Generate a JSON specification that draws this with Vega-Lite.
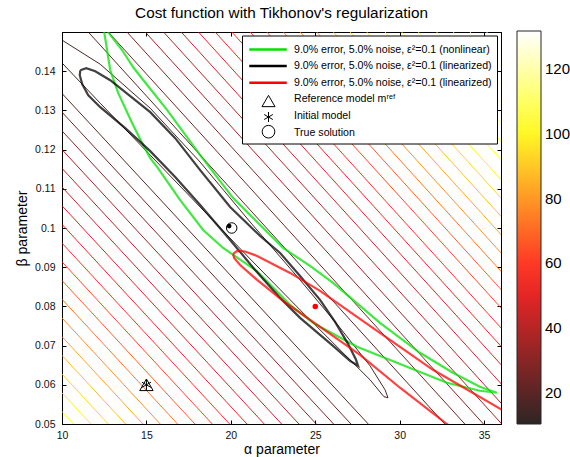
{
  "$schema": "https://vega.github.io/schema/vega-lite/v6.json",
  "width": 439,
  "height": 392,
  "autosize": {"type": "none"},
  "padding": {"left": 62, "top": 32, "right": 69, "bottom": 33},
  "background": "white",
  "title": {"text": "Cost function with Tikhonov's regularization", "fontSize": 15.3, "fontWeight": "normal", "font": "Liberation Sans", "color": "black", "offset": 10, "anchor": "middle"},
  "config": {
    "view": {"stroke": "black", "strokeWidth": 1},
    "axis": {"labelFont": "Liberation Sans", "titleFont": "Liberation Sans", "labelFontSize": 10.5, "titleFontSize": 14, "titleFontWeight": "normal", "labelColor": "#111", "titleColor": "black", "domainColor": "black", "tickColor": "black", "grid": false, "tickSize": -4, "labelPadding": 10, "labelFlush": false},
    "legend": {"labelFont": "Liberation Sans"}
  },
  "datasets": {
    "contours": [
      {"id": "L0", "lev": 102.0, "o": 0, "a": 10, "b": 0.05319}, {"id": "L0", "lev": 102.0, "o": 1, "a": 10.686, "b": 0.05},
      {"id": "L1", "lev": 97.2, "o": 0, "a": 10, "b": 0.05796}, {"id": "L1", "lev": 97.2, "o": 1, "a": 11.713, "b": 0.05},
      {"id": "L2", "lev": 92.3, "o": 0, "a": 10, "b": 0.06273}, {"id": "L2", "lev": 92.3, "o": 1, "a": 12.739, "b": 0.05},
      {"id": "L3", "lev": 87.5, "o": 0, "a": 10, "b": 0.06751}, {"id": "L3", "lev": 87.5, "o": 1, "a": 13.766, "b": 0.05},
      {"id": "L4", "lev": 82.7, "o": 0, "a": 10, "b": 0.07228}, {"id": "L4", "lev": 82.7, "o": 1, "a": 14.792, "b": 0.05},
      {"id": "L5", "lev": 77.9, "o": 0, "a": 10, "b": 0.07705}, {"id": "L5", "lev": 77.9, "o": 1, "a": 15.819, "b": 0.05},
      {"id": "L6", "lev": 73.0, "o": 0, "a": 10, "b": 0.08183}, {"id": "L6", "lev": 73.0, "o": 1, "a": 16.846, "b": 0.05},
      {"id": "L7", "lev": 68.2, "o": 0, "a": 10, "b": 0.08660}, {"id": "L7", "lev": 68.2, "o": 1, "a": 17.872, "b": 0.05},
      {"id": "L8", "lev": 63.4, "o": 0, "a": 10, "b": 0.09137}, {"id": "L8", "lev": 63.4, "o": 1, "a": 18.899, "b": 0.05},
      {"id": "L9", "lev": 58.6, "o": 0, "a": 10, "b": 0.09614}, {"id": "L9", "lev": 58.6, "o": 1, "a": 19.925, "b": 0.05},
      {"id": "L10", "lev": 53.8, "o": 0, "a": 10, "b": 0.10092}, {"id": "L10", "lev": 53.8, "o": 1, "a": 20.952, "b": 0.05},
      {"id": "L11", "lev": 48.9, "o": 0, "a": 10, "b": 0.10569}, {"id": "L11", "lev": 48.9, "o": 1, "a": 21.979, "b": 0.05},
      {"id": "L12", "lev": 44.1, "o": 0, "a": 10, "b": 0.11046}, {"id": "L12", "lev": 44.1, "o": 1, "a": 23.005, "b": 0.05},
      {"id": "L13", "lev": 39.3, "o": 0, "a": 10, "b": 0.11523}, {"id": "L13", "lev": 39.3, "o": 1, "a": 24.032, "b": 0.05},
      {"id": "L14", "lev": 34.5, "o": 0, "a": 10, "b": 0.12000}, {"id": "L14", "lev": 34.5, "o": 1, "a": 25.058, "b": 0.05},
      {"id": "L15", "lev": 29.7, "o": 0, "a": 10, "b": 0.12478}, {"id": "L15", "lev": 29.7, "o": 1, "a": 26.085, "b": 0.05},
      {"id": "L16", "lev": 24.9, "o": 0, "a": 10, "b": 0.12955}, {"id": "L16", "lev": 24.9, "o": 1, "a": 27.112, "b": 0.05},
      {"id": "L17", "lev": 20.0, "o": 0, "a": 10, "b": 0.13432}, {"id": "L17", "lev": 20.0, "o": 1, "a": 28.138, "b": 0.05},
      {"id": "U0", "lev": 20.0, "o": 0, "a": 11.556, "b": 0.15}, {"id": "U0", "lev": 20.0, "o": 1, "a": 36.556, "b": 0.03161},
      {"id": "U1", "lev": 24.9, "o": 0, "a": 12.740, "b": 0.15}, {"id": "U1", "lev": 24.9, "o": 1, "a": 37.740, "b": 0.03161},
      {"id": "U2", "lev": 29.7, "o": 0, "a": 13.846, "b": 0.15}, {"id": "U2", "lev": 29.7, "o": 1, "a": 38.846, "b": 0.03161},
      {"id": "U3", "lev": 34.5, "o": 0, "a": 14.929, "b": 0.15}, {"id": "U3", "lev": 34.5, "o": 1, "a": 39.929, "b": 0.03161},
      {"id": "U4", "lev": 39.3, "o": 0, "a": 16.012, "b": 0.15}, {"id": "U4", "lev": 39.3, "o": 1, "a": 41.012, "b": 0.03161},
      {"id": "U5", "lev": 44.1, "o": 0, "a": 17.059, "b": 0.15}, {"id": "U5", "lev": 44.1, "o": 1, "a": 42.059, "b": 0.03161},
      {"id": "U6", "lev": 48.9, "o": 0, "a": 18.083, "b": 0.15}, {"id": "U6", "lev": 48.9, "o": 1, "a": 43.083, "b": 0.03161},
      {"id": "U7", "lev": 53.8, "o": 0, "a": 19.071, "b": 0.15}, {"id": "U7", "lev": 53.8, "o": 1, "a": 44.071, "b": 0.03161},
      {"id": "U8", "lev": 58.6, "o": 0, "a": 20.059, "b": 0.15}, {"id": "U8", "lev": 58.6, "o": 1, "a": 45.059, "b": 0.03161},
      {"id": "U9", "lev": 63.4, "o": 0, "a": 21.142, "b": 0.15}, {"id": "U9", "lev": 63.4, "o": 1, "a": 46.142, "b": 0.03161},
      {"id": "U10", "lev": 68.2, "o": 0, "a": 22.130, "b": 0.15}, {"id": "U10", "lev": 68.2, "o": 1, "a": 47.130, "b": 0.03161},
      {"id": "U11", "lev": 73.0, "o": 0, "a": 23.112, "b": 0.15}, {"id": "U11", "lev": 73.0, "o": 1, "a": 48.112, "b": 0.03161},
      {"id": "U12", "lev": 77.9, "o": 0, "a": 24.101, "b": 0.15}, {"id": "U12", "lev": 77.9, "o": 1, "a": 49.101, "b": 0.03161},
      {"id": "U13", "lev": 82.7, "o": 0, "a": 25.089, "b": 0.15}, {"id": "U13", "lev": 82.7, "o": 1, "a": 50.089, "b": 0.03161},
      {"id": "U14", "lev": 87.5, "o": 0, "a": 26.071, "b": 0.15}, {"id": "U14", "lev": 87.5, "o": 1, "a": 51.071, "b": 0.03161},
      {"id": "U15", "lev": 92.3, "o": 0, "a": 27.059, "b": 0.15}, {"id": "U15", "lev": 92.3, "o": 1, "a": 52.059, "b": 0.03161},
      {"id": "U16", "lev": 97.2, "o": 0, "a": 28.047, "b": 0.15}, {"id": "U16", "lev": 97.2, "o": 1, "a": 53.047, "b": 0.03161},
      {"id": "U17", "lev": 102.0, "o": 0, "a": 29.130, "b": 0.15}, {"id": "U17", "lev": 102.0, "o": 1, "a": 54.130, "b": 0.03161},
      {"id": "U18", "lev": 106.8, "o": 0, "a": 30.118, "b": 0.15}, {"id": "U18", "lev": 106.8, "o": 1, "a": 55.118, "b": 0.03161},
      {"id": "U19", "lev": 111.6, "o": 0, "a": 31.101, "b": 0.15}, {"id": "U19", "lev": 111.6, "o": 1, "a": 56.101, "b": 0.03161},
      {"id": "U20", "lev": 116.4, "o": 0, "a": 32.189, "b": 0.15}, {"id": "U20", "lev": 116.4, "o": 1, "a": 57.189, "b": 0.03161},
      {"id": "U21", "lev": 121.2, "o": 0, "a": 33.172, "b": 0.15}, {"id": "U21", "lev": 121.2, "o": 1, "a": 58.172, "b": 0.03161},
      {"id": "U22", "lev": 126.1, "o": 0, "a": 34.160, "b": 0.15}, {"id": "U22", "lev": 126.1, "o": 1, "a": 59.160, "b": 0.03161},
      {"id": "U23", "lev": 130.9, "o": 0, "a": 35.148, "b": 0.15}, {"id": "U23", "lev": 130.9, "o": 1, "a": 60.148, "b": 0.03161},
      {"id": "E", "lev": 15.2, "o": 0, "a": 7.533, "b": 0.15171},
      {"id": "E", "lev": 15.2, "o": 1, "a": 8.716, "b": 0.15043},
      {"id": "E", "lev": 15.2, "o": 2, "a": 10.018, "b": 0.14789},
      {"id": "E", "lev": 15.2, "o": 3, "a": 12.266, "b": 0.14177},
      {"id": "E", "lev": 15.2, "o": 4, "a": 15.225, "b": 0.13056},
      {"id": "E", "lev": 15.2, "o": 5, "a": 18.183, "b": 0.11681},
      {"id": "E", "lev": 15.2, "o": 6, "a": 21.142, "b": 0.10153},
      {"id": "E", "lev": 15.2, "o": 7, "a": 24.100, "b": 0.08675},
      {"id": "E", "lev": 15.2, "o": 8, "a": 26.467, "b": 0.07453},
      {"id": "E", "lev": 15.2, "o": 9, "a": 28.243, "b": 0.06485},
      {"id": "E", "lev": 15.2, "o": 10, "a": 29.130, "b": 0.05874},
      {"id": "E", "lev": 15.2, "o": 11, "a": 29.308, "b": 0.05670},
      {"id": "E", "lev": 15.2, "o": 12, "a": 29.071, "b": 0.05695},
      {"id": "E", "lev": 15.2, "o": 13, "a": 28.243, "b": 0.06128},
      {"id": "E", "lev": 15.2, "o": 14, "a": 26.467, "b": 0.06892},
      {"id": "E", "lev": 15.2, "o": 15, "a": 24.100, "b": 0.07911},
      {"id": "E", "lev": 15.2, "o": 16, "a": 21.142, "b": 0.09210},
      {"id": "E", "lev": 15.2, "o": 17, "a": 18.183, "b": 0.10535},
      {"id": "E", "lev": 15.2, "o": 18, "a": 15.225, "b": 0.11859},
      {"id": "E", "lev": 15.2, "o": 19, "a": 12.266, "b": 0.13183},
      {"id": "E", "lev": 15.2, "o": 20, "a": 10.018, "b": 0.14203},
      {"id": "E", "lev": 15.2, "o": 21, "a": 8.716, "b": 0.14738},
      {"id": "E", "lev": 15.2, "o": 22, "a": 7.533, "b": 0.15171}
    ],
    "overlays": [
      {"s": "g", "o": 0, "a": 12.521, "b": 0.15298}, {"s": "g", "o": 1, "a": 12.740, "b": 0.14992},
      {"s": "g", "o": 2, "a": 13.568, "b": 0.14534}, {"s": "g", "o": 3, "a": 14.219, "b": 0.14101},
      {"s": "g", "o": 4, "a": 14.633, "b": 0.13871}, {"s": "g", "o": 5, "a": 16.231, "b": 0.13006},
      {"s": "g", "o": 6, "a": 18.183, "b": 0.11859}, {"s": "g", "o": 7, "a": 20.136, "b": 0.10764},
      {"s": "g", "o": 8, "a": 21.438, "b": 0.10204}, {"s": "g", "o": 9, "a": 23.095, "b": 0.09490},
      {"s": "g", "o": 10, "a": 24.692, "b": 0.09032}, {"s": "g", "o": 11, "a": 26.053, "b": 0.08599},
      {"s": "g", "o": 12, "a": 28.834, "b": 0.07580}, {"s": "g", "o": 13, "a": 31.201, "b": 0.06816},
      {"s": "g", "o": 14, "a": 33.153, "b": 0.06307}, {"s": "g", "o": 15, "a": 34.751, "b": 0.05950},
      {"s": "g", "o": 16, "a": 35.757, "b": 0.05797}, {"s": "g", "o": 17, "a": 34.751, "b": 0.05848},
      {"s": "g", "o": 18, "a": 32.798, "b": 0.06052}, {"s": "g", "o": 19, "a": 29.840, "b": 0.06561},
      {"s": "g", "o": 20, "a": 27.473, "b": 0.06969}, {"s": "g", "o": 21, "a": 24.870, "b": 0.07580},
      {"s": "g", "o": 22, "a": 23.509, "b": 0.08039}, {"s": "g", "o": 23, "a": 21.556, "b": 0.08897},
      {"s": "g", "o": 24, "a": 19.544, "b": 0.09490}, {"s": "g", "o": 25, "a": 18.361, "b": 0.09949},
      {"s": "g", "o": 26, "a": 17.000, "b": 0.10713}, {"s": "g", "o": 27, "a": 15.639, "b": 0.11554},
      {"s": "g", "o": 28, "a": 15.225, "b": 0.11783}, {"s": "g", "o": 29, "a": 14.751, "b": 0.12165},
      {"s": "g", "o": 30, "a": 14.160, "b": 0.12674}, {"s": "g", "o": 31, "a": 13.331, "b": 0.13439},
      {"s": "g", "o": 32, "a": 12.858, "b": 0.14024}, {"s": "g", "o": 33, "a": 12.503, "b": 0.14992},
      {"s": "g", "o": 34, "a": 12.444, "b": 0.15171}, {"s": "g", "o": 35, "a": 12.521, "b": 0.15298},
      {"s": "k", "o": 0, "a": 11.083, "b": 0.14024}, {"s": "k", "o": 1, "a": 11.438, "b": 0.14075},
      {"s": "k", "o": 2, "a": 11.970, "b": 0.13999}, {"s": "k", "o": 3, "a": 12.858, "b": 0.13770},
      {"s": "k", "o": 4, "a": 14.041, "b": 0.13362}, {"s": "k", "o": 5, "a": 15.225, "b": 0.12955},
      {"s": "k", "o": 6, "a": 16.704, "b": 0.12292}, {"s": "k", "o": 7, "a": 18.183, "b": 0.11477},
      {"s": "k", "o": 8, "a": 19.958, "b": 0.10535}, {"s": "k", "o": 9, "a": 21.734, "b": 0.09796},
      {"s": "k", "o": 10, "a": 22.917, "b": 0.09363}, {"s": "k", "o": 11, "a": 24.100, "b": 0.08777},
      {"s": "k", "o": 12, "a": 25.284, "b": 0.08166}, {"s": "k", "o": 13, "a": 26.172, "b": 0.07606},
      {"s": "k", "o": 14, "a": 26.941, "b": 0.07045}, {"s": "k", "o": 15, "a": 27.414, "b": 0.06638},
      {"s": "k", "o": 16, "a": 27.532, "b": 0.06485}, {"s": "k", "o": 17, "a": 27.059, "b": 0.06612},
      {"s": "k", "o": 18, "a": 26.053, "b": 0.06994}, {"s": "k", "o": 19, "a": 25.284, "b": 0.07274},
      {"s": "k", "o": 20, "a": 24.100, "b": 0.07707}, {"s": "k", "o": 21, "a": 22.917, "b": 0.08217},
      {"s": "k", "o": 22, "a": 21.438, "b": 0.08930}, {"s": "k", "o": 23, "a": 19.958, "b": 0.09694},
      {"s": "k", "o": 24, "a": 18.183, "b": 0.10586}, {"s": "k", "o": 25, "a": 16.704, "b": 0.11299},
      {"s": "k", "o": 26, "a": 15.225, "b": 0.11961}, {"s": "k", "o": 27, "a": 13.746, "b": 0.12547},
      {"s": "k", "o": 28, "a": 12.266, "b": 0.13082}, {"s": "k", "o": 29, "a": 11.556, "b": 0.13387},
      {"s": "k", "o": 30, "a": 11.201, "b": 0.13668}, {"s": "k", "o": 31, "a": 11.053, "b": 0.13898},
      {"s": "k", "o": 32, "a": 11.083, "b": 0.14024},
      {"s": "r", "o": 0, "a": 20.136, "b": 0.09338}, {"s": "r", "o": 1, "a": 20.373, "b": 0.09414},
      {"s": "r", "o": 2, "a": 20.846, "b": 0.09401}, {"s": "r", "o": 3, "a": 21.556, "b": 0.09287},
      {"s": "r", "o": 4, "a": 23.509, "b": 0.08854}, {"s": "r", "o": 5, "a": 25.284, "b": 0.08395},
      {"s": "r", "o": 6, "a": 28.065, "b": 0.07555}, {"s": "r", "o": 7, "a": 31.970, "b": 0.06383},
      {"s": "r", "o": 8, "a": 36.053, "b": 0.05364}, {"s": "r", "o": 9, "a": 38.302, "b": 0.04804},
      {"s": "r", "o": 10, "a": 37.118, "b": 0.04345}, {"s": "r", "o": 11, "a": 34.160, "b": 0.04575},
      {"s": "r", "o": 12, "a": 32.798, "b": 0.05}, {"s": "r", "o": 13, "a": 30.018, "b": 0.05925},
      {"s": "r", "o": 14, "a": 27.651, "b": 0.06765}, {"s": "r", "o": 15, "a": 25.284, "b": 0.07478},
      {"s": "r", "o": 16, "a": 23.095, "b": 0.08140}, {"s": "r", "o": 17, "a": 21.556, "b": 0.08675},
      {"s": "r", "o": 18, "a": 20.550, "b": 0.09057}, {"s": "r", "o": 19, "a": 20.195, "b": 0.09236},
      {"s": "r", "o": 20, "a": 20.136, "b": 0.09338}
    ]
  },
  "layer": [
    {
      "data": {"name": "contours"},
      "mark": {"type": "line", "clip": true, "strokeWidth": 1, "opacity": 0.85},
      "encoding": {
        "x": {"field": "a", "type": "quantitative", "scale": {"domain": [10, 36], "nice": false, "zero": false},
              "axis": {"orient": "bottom", "values": [10, 15, 20, 25, 30, 35], "title": "α parameter", "titlePadding": 2}},
        "y": {"field": "b", "type": "quantitative", "scale": {"domain": [0.05, 0.15], "nice": false, "zero": false},
              "axis": {"orient": "left", "values": [0.05, 0.06, 0.07, 0.08, 0.09, 0.1, 0.11, 0.12, 0.13, 0.14], "format": "~g", "title": "β parameter", "titlePadding": 5, "labelPadding": 11}},
        "color": {"field": "lev", "type": "quantitative",
                  "scale": {"type": "linear", "domain": [10.4, 55.9, 101.4, 131.7], "range": ["#0b0000", "#ff0000", "#ffff00", "#ffffff"], "interpolate": "rgb", "clamp": true},
                  "legend": {"type": "gradient", "orient": "none", "legendX": 455, "legendY": -1, "direction": "vertical", "gradientLength": 393, "gradientThickness": 24, "gradientStrokeColor": "black", "gradientStrokeWidth": 1, "values": [20, 40, 60, 80, 100, 120], "labelFontSize": 15, "labelColor": "black", "labelOffset": 4, "labelOverlap": false, "title": null, "padding": 0}},
        "detail": {"field": "id"},
        "order": {"field": "o", "type": "quantitative"}
      }
    },
    {
      "data": {"name": "overlays"},
      "mark": {"type": "line", "clip": true, "strokeWidth": 2.2, "opacity": 0.75},
      "encoding": {
        "x": {"field": "a", "type": "quantitative", "axis": null},
        "y": {"field": "b", "type": "quantitative", "axis": null},
        "stroke": {"field": "s", "type": "nominal",
                   "scale": {"domain": ["g", "k", "r", "t", "i", "c"], "range": ["#00e000", "#000000", "#ff0000", "transparent", "transparent", "transparent"]},
                   "legend": {"orient": "none", "legendX": 180, "legendY": 3.5, "title": null, "fillColor": "white", "strokeColor": "black", "padding": 5,
                              "labelFontSize": 10.6, "labelColor": "black", "labelLimit": 400, "symbolSize": 225, "symbolStrokeWidth": 2.5, "symbolOffset": 12, "labelOffset": 17, "rowPadding": 1.6, "symbolOpacity": 1, "symbolType": "M-2.5,0H2.5",
                              "labelExpr": "datum.value == 'g' ? '9.0% error, 5.0% noise, ε²=0.1 (nonlinear)' : (datum.value == 'k' || datum.value == 'r') ? '9.0% error, 5.0% noise, ε²=0.1 (linearized)' : datum.value == 't' ? 'Reference model mʳᵉᶠ' : datum.value == 'i' ? 'Initial model' : 'True solution'"}},
        "order": {"field": "o", "type": "quantitative"}
      }
    },
    {
      "data": {"values": [{"k": "t", "a": 15, "b": 0.06}]},
      "mark": {"type": "point", "size": 180, "stroke": "black", "strokeWidth": 1, "filled": false, "opacity": 1},
      "encoding": {
        "x": {"field": "a", "type": "quantitative", "axis": {"orient": "top", "labels": false, "title": null, "values": [10, 15, 20, 25, 30, 35]}},
        "y": {"field": "b", "type": "quantitative", "axis": {"orient": "right", "labels": false, "title": null, "values": [0.05, 0.06, 0.07, 0.08, 0.09, 0.1, 0.11, 0.12, 0.13, 0.14]}},
        "shape": {"field": "k", "type": "nominal",
                  "scale": {"domain": ["t"], "range": ["triangle-up"]},
                  "legend": {"orient": "none", "legendX": 185, "legendY": 61.5, "title": null, "padding": 0, "symbolSize": 170, "symbolStrokeWidth": 1, "symbolStrokeColor": "black", "symbolOffset": 14, "labelExpr": "''", "labelFontSize": 2, "symbolOpacity": 1}}
      }
    },
    {
      "data": {"values": [{"k": "i", "a": 15, "b": 0.06}]},
      "mark": {"type": "point", "size": 110, "stroke": "black", "strokeWidth": 1, "filled": false, "opacity": 1},
      "encoding": {
        "x": {"field": "a", "type": "quantitative", "axis": null},
        "y": {"field": "b", "type": "quantitative", "axis": null},
        "shape": {"field": "k", "type": "nominal",
                  "scale": {"domain": ["i"], "range": ["M0,-1V1M-0.87,-0.5L0.87,0.5M-0.87,0.5L0.87,-0.5"]},
                  "legend": {"orient": "none", "legendX": 185, "legendY": 79.5, "title": null, "padding": 0, "symbolSize": 100, "symbolStrokeWidth": 1, "symbolStrokeColor": "black", "symbolOffset": 16, "labelExpr": "''", "labelFontSize": 2, "symbolOpacity": 1}}
      }
    },
    {
      "data": {"values": [{"k": "c", "a": 20.05, "b": 0.1}]},
      "mark": {"type": "point", "size": 110, "stroke": "black", "strokeWidth": 1, "filled": false, "opacity": 1},
      "encoding": {
        "x": {"field": "a", "type": "quantitative", "axis": null},
        "y": {"field": "b", "type": "quantitative", "axis": null},
        "shape": {"field": "k", "type": "nominal",
                  "scale": {"domain": ["c"], "range": ["circle"]},
                  "legend": {"orient": "none", "legendX": 185, "legendY": 92.7, "title": null, "padding": 0, "symbolSize": 160, "symbolStrokeWidth": 1, "symbolStrokeColor": "black", "symbolOffset": 14.5, "labelExpr": "''", "labelFontSize": 2, "symbolOpacity": 1}}
      }
    },
    {
      "data": {"values": [{"a": 19.9, "b": 0.1005}]},
      "mark": {"type": "point", "shape": "circle", "size": 22, "color": "black", "filled": true, "opacity": 1},
      "encoding": {
        "x": {"field": "a", "type": "quantitative", "axis": null},
        "y": {"field": "b", "type": "quantitative", "axis": null}
      }
    },
    {
      "data": {"values": [{"a": 25, "b": 0.08}]},
      "mark": {"type": "point", "shape": "circle", "size": 30, "color": "#ff0000", "filled": true, "opacity": 1},
      "encoding": {
        "x": {"field": "a", "type": "quantitative", "axis": null},
        "y": {"field": "b", "type": "quantitative", "axis": null}
      }
    }
  ],
  "resolve": {"scale": {"shape": "independent"}, "axis": {"x": "independent", "y": "independent"}}
}
